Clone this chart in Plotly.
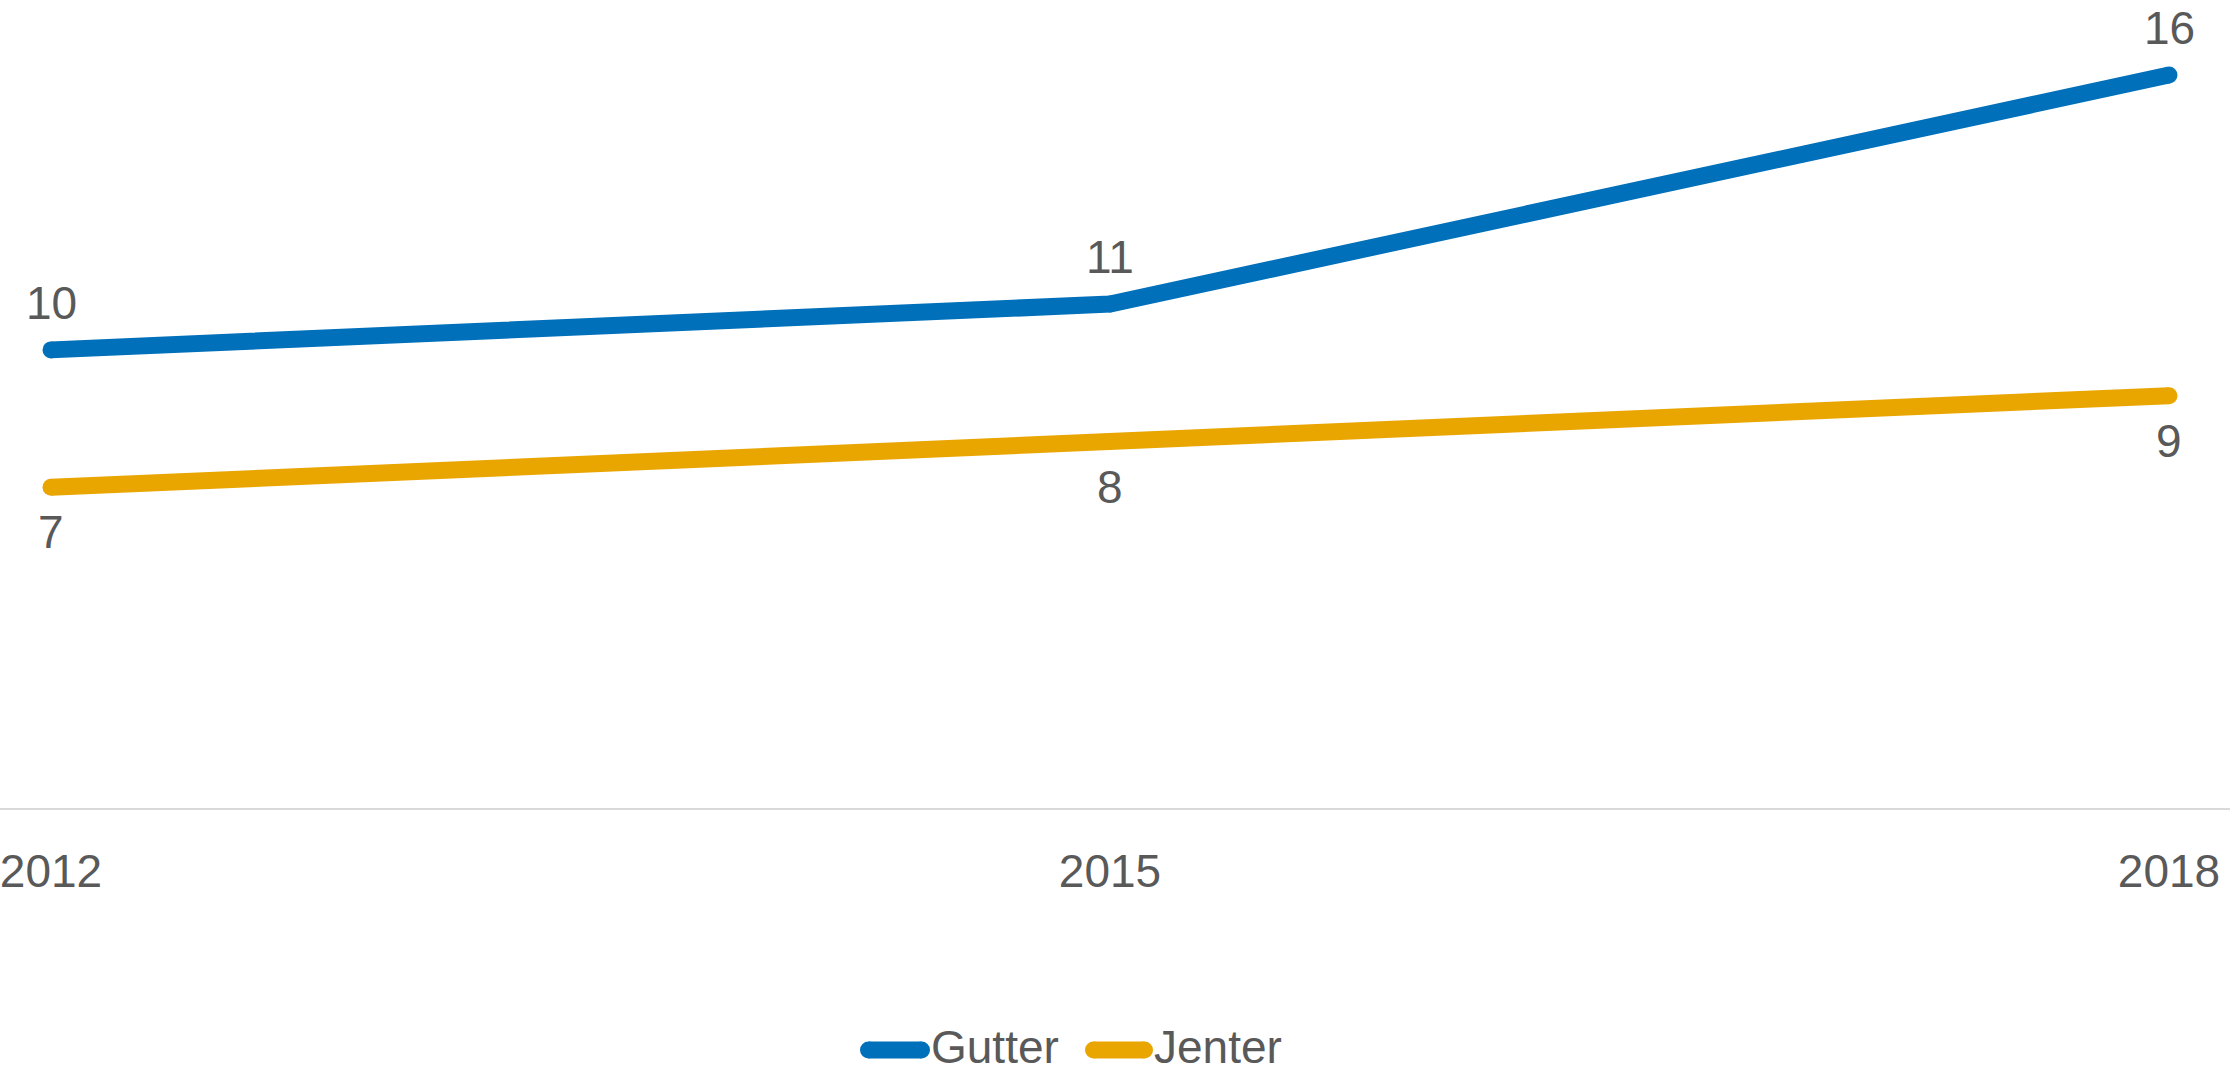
import plotly.graph_objects as go

years = [2012, 2015, 2018]
gutter = [10, 11, 16]
jenter = [7, 8, 9]
series_names = ["Gutter", "Jenter"]

BLUE = "#0070BA"
ORANGE = "#E9A500"
TXT = "#595959"
FONT = "Liberation Sans, Arial, sans-serif"
FS = 46

W, H = 2230, 1072
PLOT_BOTTOM = 808

fig = go.Figure()
for name, vals, col in [(series_names[0], gutter, BLUE), (series_names[1], jenter, ORANGE)]:
    fig.add_trace(go.Scatter(
        x=years, y=vals, name=name, mode="lines+markers",
        line=dict(color=col, width=17),
        marker=dict(color=col, size=17, line=dict(width=0)),
        showlegend=False, hoverinfo="skip", cliponaxis=False,
    ))

annotations = []
for x, v in zip(years, gutter):
    annotations.append(dict(x=x, y=v, xref="x", yref="y", text=str(v), showarrow=False,
                            yshift=47, font=dict(size=FS, color=TXT, family=FONT),
                            xanchor="center", yanchor="middle"))
for x, v in zip(years, jenter):
    annotations.append(dict(x=x, y=v, xref="x", yref="y", text=str(v), showarrow=False,
                            yshift=-45, font=dict(size=FS, color=TXT, family=FONT),
                            xanchor="center", yanchor="middle"))

# manual legend
shapes = []
leg_y_px = 1050
leg_y = (PLOT_BOTTOM - leg_y_px) / PLOT_BOTTOM
leg_txt_y = (PLOT_BOTTOM - (leg_y_px - 3)) / PLOT_BOTTOM
legend_items = [(series_names[0], BLUE, 868.5, 921.5, 930), (series_names[1], ORANGE, 1093.5, 1144.5, 1153)]
for name, col, x0, x1, tx in legend_items:
    shapes.append(dict(type="line", xref="paper", yref="paper",
                       x0=x0 / W, x1=x1 / W, y0=leg_y, y1=leg_y,
                       line=dict(color=col, width=17)))
    for cx in (x0, x1):
        shapes.append(dict(type="circle", xref="paper", yref="paper",
                           xsizemode="pixel", ysizemode="pixel",
                           xanchor=cx / W, yanchor=leg_y,
                           x0=-8.5, x1=8.5, y0=-8.5, y1=8.5,
                           fillcolor=col, line=dict(width=0)))
    annotations.append(dict(x=tx / W, y=leg_txt_y, xref="paper", yref="paper", text=name,
                            showarrow=False, xanchor="left", yanchor="middle",
                            font=dict(size=FS, color=TXT, family=FONT), borderpad=0))

px_per_year = (2169 - 51) / 6
fig.update_layout(
    width=W, height=H,
    margin=dict(l=0, r=0, t=0, b=H - PLOT_BOTTOM, pad=0, autoexpand=False),
    paper_bgcolor="white", plot_bgcolor="white",
    font=dict(family=FONT, size=FS, color=TXT),
    xaxis=dict(
        range=[2012 - 51 / px_per_year, 2018 + (W - 2169) / px_per_year],
        tickvals=years, ticktext=[str(y) for y in years],
        showgrid=False, zeroline=False, automargin=False,
        showline=True, linecolor="#D9D9D9", linewidth=2,
        ticks="", ticklabelstandoff=22, ticklabeloverflow="allow",
        tickfont=dict(size=FS, color=TXT, family=FONT),
    ),
    yaxis=dict(range=[0, PLOT_BOTTOM / (733 / 16)], visible=False, showgrid=False,
               zeroline=False, automargin=False),
    annotations=annotations, shapes=shapes,
    showlegend=False,
)

fig.write_html("out.html",
               config={"displayModeBar": False, "staticPlot": True},
               post_script="document.body.style.margin='0px';document.body.style.overflow='hidden';")
